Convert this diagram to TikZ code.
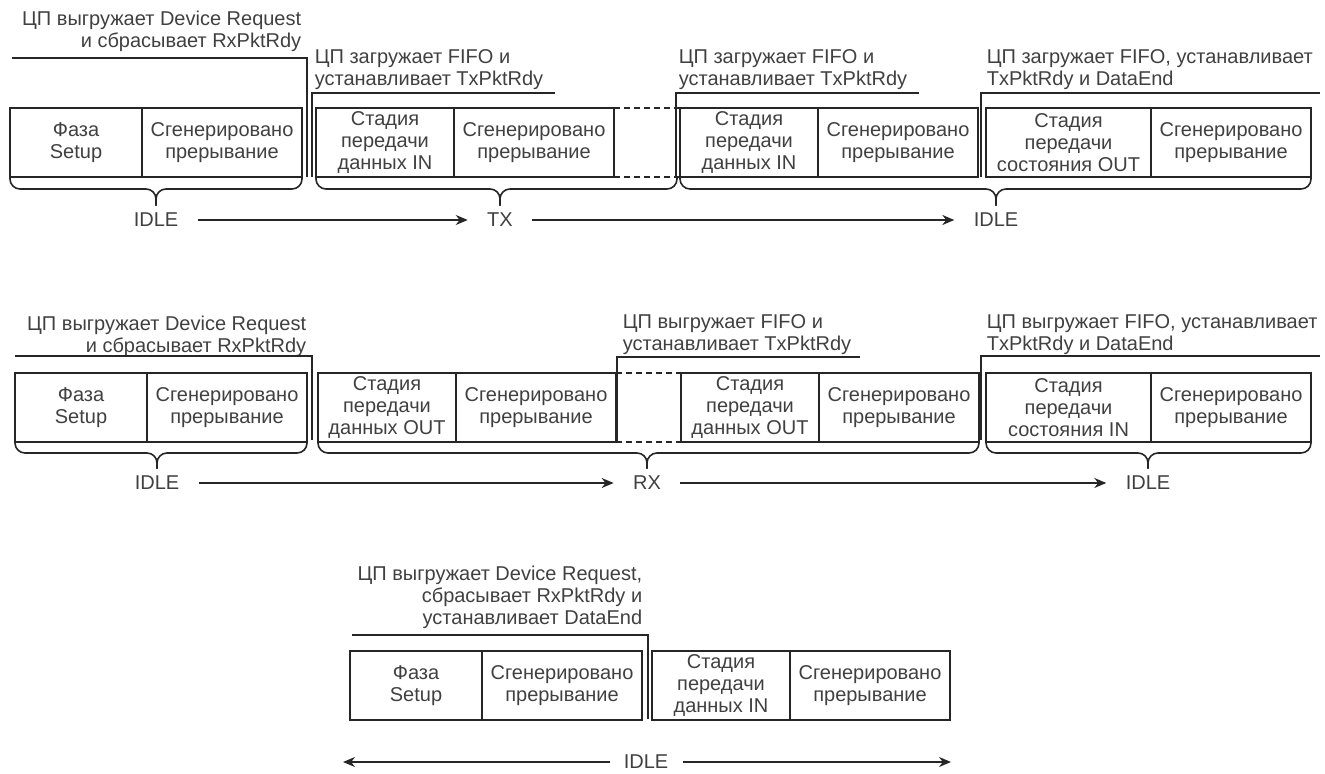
\documentclass[tikz,border=0pt]{standalone}
\usepackage{fontspec}
\setmainfont{Liberation Sans}
\usepackage{tikz}
\usetikzlibrary{arrows.meta, positioning}
\definecolor{ink}{HTML}{262626}
\definecolor{textgray}{HTML}{404040}

\begin{document}
\begin{tikzpicture}[x=0.5pt, y=-0.5pt, >={Stealth[length=6pt, width=5pt]}, line width=0.8pt, font=\fontsize{10}{11}\selectfont]
        \tikzstyle{cell} = [rectangle, draw=ink, minimum height=34.5pt, inner sep=1pt, outer sep=0pt, align=center, text=textgray]
        \tikzstyle{phase} = [cell, minimum width=66pt]
        \tikzstyle{irq} = [cell, minimum width=80pt]
        \tikzstyle{stage} = [cell, minimum width=69pt]
        \tikzstyle{stagewide} = [cell, minimum width=82.5pt]
        \tikzstyle{note} = [inner sep=0pt, text=textgray]
        \tikzstyle{state} = [text=textgray]
        \tikzstyle{flow} = [draw=ink, ->, shorten <=6pt, shorten >=6pt]
        \tikzstyle{bracket} = [draw=ink]
        \tikzstyle{gapline} = [draw=ink, dash pattern=on 3pt off 2pt]
        \tikzstyle{curly} = [draw=ink, rounded corners=5pt]

        \useasboundingbox (0,0) rectangle (1325,774);

        % top row: IDLE -> TX -> IDLE
        \node [phase, anchor=north west] (setupA) at (10,108) {Фаза\\Setup};
        \node [irq, right=0pt of setupA] (irqA1) {Сгенерировано\\прерывание};
        \node [stage, right=7pt of irqA1] (inA1) {Стадия\\передачи\\данных IN};
        \node [irq, right=0pt of inA1] (irqA2) {Сгенерировано\\прерывание};
        \node [stage, right=33pt of irqA2] (inA2) {Стадия\\передачи\\данных IN};
        \node [irq, right=0pt of inA2] (irqA3) {Сгенерировано\\прерывание};
        \node [stagewide, right=4pt of irqA3] (statusA) {Стадия\\передачи\\состояния OUT};
        \node [irq, right=0pt of statusA] (irqA4) {Сгенерировано\\прерывание};

        \node [note, align=right, anchor=north east] (noteA1) at (302,10) {ЦП выгружает Device Request\\и сбрасывает RxPktRdy};
        \node [note, align=left, anchor=north west] (noteA2) at (314,49) {ЦП загружает FIFO и\\устанавливает TxPktRdy};
        \node [note, align=left, anchor=north west] (noteA3) at (678,49) {ЦП загружает FIFO и\\устанавливает TxPktRdy};
        \node [note, align=left, anchor=north west] (noteA4) at (986,49) {ЦП загружает FIFO, устанавливает\\TxPktRdy и DataEnd};

        \path [bracket] (12,58) -- (307,58) -- (307,177);
        \path [bracket] (555,93) -- (312,93) -- (312,177);
        \path [bracket] (919,93) -- (676,93) -- (676,177);
        \path [bracket] (1320,93) -- (981,93) -- (981,177);

        \path [gapline] (irqA2.north east) -- (inA2.north west);
        \path [gapline] (irqA2.south east) -- (inA2.south west);

        \node [state] (idleA1) at (156,220) {IDLE};
        \node [state] (txA) at (500,220) {TX};
        \node [state] (idleA2) at (996,220) {IDLE};

        \path [curly] (setupA.south west) |- (idleA1 |- 0,189) -- (idleA1);
        \path [curly] (irqA1.south east) |- (idleA1 |- 0,189) -- (idleA1);
        \path [curly] (inA1.south west) |- (txA |- 0,189) -- (txA);
        \path [curly] (677,177) |- (txA |- 0,189) -- (txA);
        \path [curly] (inA2.south west) |- (idleA2 |- 0,189) -- (idleA2);
        \path [curly] (irqA4.south east) |- (idleA2 |- 0,189) -- (idleA2);

        \path [flow] (idleA1) -- (txA);
        \path [flow] (txA) -- (idleA2);

        % middle row: IDLE -> RX -> IDLE
        \node [phase, anchor=north west] (setupB) at (15,373) {Фаза\\Setup};
        \node [irq, right=0pt of setupB] (irqB1) {Сгенерировано\\прерывание};
        \node [stage, right=5.5pt of irqB1] (outB1) {Стадия\\передачи\\данных OUT};
        \node [irq, right=0pt of outB1] (irqB2) {Сгенерировано\\прерывание};
        \node [stage, right=32.5pt of irqB2] (outB2) {Стадия\\передачи\\данных OUT};
        \node [irq, right=0pt of outB2] (irqB3) {Сгенерировано\\прерывание};
        \node [stagewide, right=3.5pt of irqB3] (statusB) {Стадия\\передачи\\состояния IN};
        \node [irq, right=0pt of statusB] (irqB4) {Сгенерировано\\прерывание};

        \node [note, align=right, anchor=north east] (noteB1) at (307,315) {ЦП выгружает Device Request\\и сбрасывает RxPktRdy};
        \node [note, align=left, anchor=north west] (noteB2) at (622,314) {ЦП выгружает FIFO и\\устанавливает TxPktRdy};
        \node [note, align=left, anchor=north west] (noteB3) at (986,314) {ЦП выгружает FIFO, устанавливает\\TxPktRdy и DataEnd};

        \path [bracket] (15,356) -- (312,356) -- (312,440);
        \path [bracket] (860,357) -- (617,357) -- (617,441);
        \path [bracket] (1320,356) -- (981,356) -- (981,440);

        \path [gapline] (irqB2.north east) -- (outB2.north west);
        \path [gapline] (irqB2.south east) -- (outB2.south west);

        \node [state] (idleB1) at (157,483) {IDLE};
        \node [state] (rxB) at (647,483) {RX};
        \node [state] (idleB2) at (1148,483) {IDLE};

        \path [curly] (setupB.south west) |- (idleB1 |- 0,453) -- (idleB1);
        \path [curly] (irqB1.south east) |- (idleB1 |- 0,453) -- (idleB1);
        \path [curly] (outB1.south west) |- (rxB |- 0,453) -- (rxB);
        \path [curly] (irqB3.south east) |- (rxB |- 0,453) -- (rxB);
        \path [curly] (statusB.south west) |- (idleB2 |- 0,453) -- (idleB2);
        \path [curly] (irqB4.south east) |- (idleB2 |- 0,453) -- (idleB2);

        \path [flow] (idleB1) -- (rxB);
        \path [flow] (rxB) -- (idleB2);

        % bottom row: stays in IDLE
        \node [phase, anchor=north west] (setupC) at (350,651) {Фаза\\Setup};
        \node [irq, right=0pt of setupC] (irqC1) {Сгенерировано\\прерывание};
        \node [stage, right=5pt of irqC1] (inC) {Стадия\\передачи\\данных IN};
        \node [irq, right=0pt of inC] (irqC2) {Сгенерировано\\прерывание};

        \node [note, align=right, anchor=north east] (noteC) at (643,565) {ЦП выгружает Device Request,\\сбрасывает RxPktRdy и\\устанавливает DataEnd};
        \path [bracket] (352,635) -- (648,635) -- (648,719);

        \node [state] (idleC) at (646,762) {IDLE};
        \coordinate (leftEnd) at (343,762);
        \coordinate (rightEnd) at (951,762);
        \path [flow, shorten <=3pt, shorten >=0pt] (idleC) -- (leftEnd);
        \path [flow, shorten <=3.5pt, shorten >=0pt] (idleC) -- (rightEnd);
    \end{tikzpicture}
\end{document}
